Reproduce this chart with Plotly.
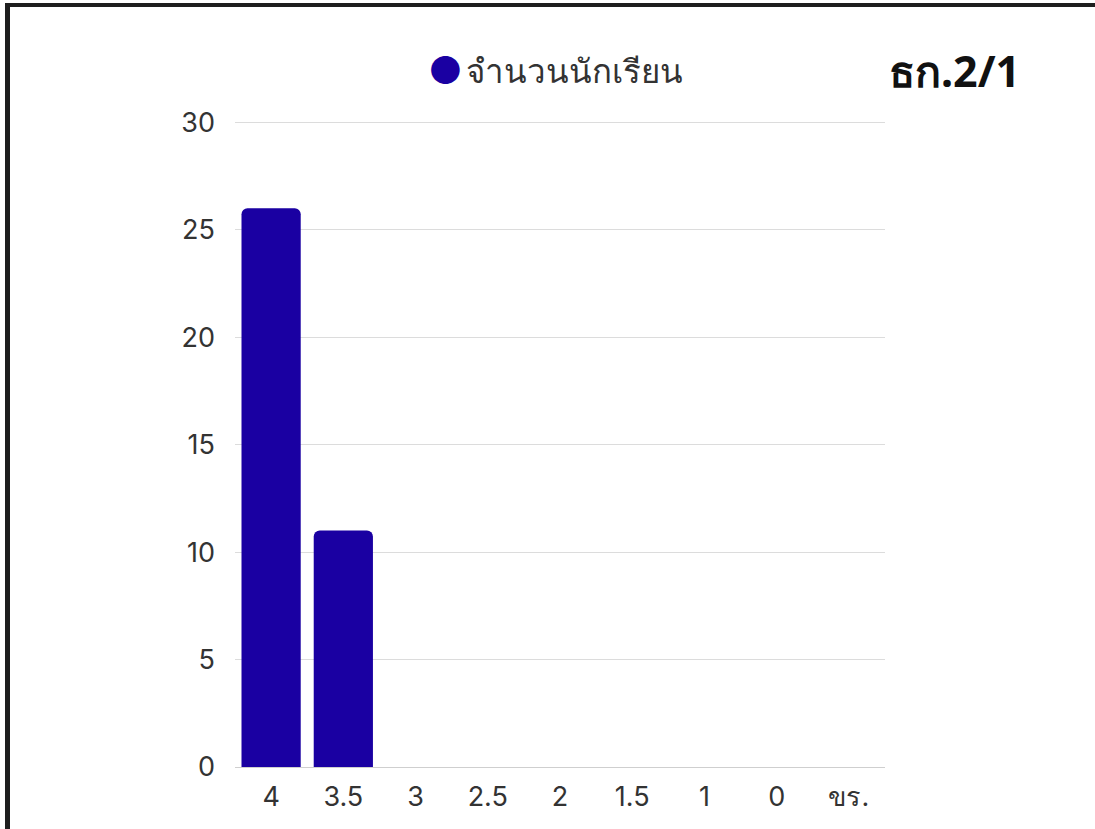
import plotly.graph_objects as go

categories = ["4", "3.5", "3", "2.5", "2", "1.5", "1", "0", "ขร."]
students = [26, 11, 0, 0, 0, 0, 0, 0, 0]
y_ticks = [0, 5, 10, 15, 20, 25, 30]
series_name = "จำนวนนักเรียน"
title_text = "ธก.2/1"

W, H = 1095, 829
L, R, T, B = 235, 210, 120, 62
pw, ph = W - L - R, H - T - B

def px(x):
    return (x - L) / pw

def py(y):
    return (H - B - y) / ph

fig = go.Figure()
fig.add_trace(go.Bar(
    x=categories, y=students, name=series_name,
    marker=dict(color="#1a00a2", cornerradius=6, line=dict(width=0)),
    showlegend=False,
))

fig.update_layout(
    width=W, height=H,
    margin=dict(l=L, r=R, t=T, b=B, autoexpand=False),
    paper_bgcolor="white", plot_bgcolor="white",
    bargap=0.18,
    font=dict(family="Inter, Noto Sans, sans-serif", color="#333333", size=27),
    xaxis=dict(type="category", showgrid=False, showline=False, ticks="",
               tickfont=dict(size=27, color="#333333"), ticklabelstandoff=11),
    yaxis=dict(range=[0, 30.1], tickvals=y_ticks, showgrid=True, gridcolor="#dcdcdc",
               gridwidth=1, zeroline=True, zerolinecolor="#cfcfcf", zerolinewidth=1,
               showline=False, ticks="", ticklabelstandoff=19,
               tickfont=dict(size=27, color="#333333")),
    shapes=[
        dict(type="rect", xref="paper", yref="paper",
             x0=px(5), x1=px(10), y0=py(829), y1=py(3),
             fillcolor="#1e1e1e", line=dict(width=0), layer="above"),
        dict(type="rect", xref="paper", yref="paper",
             x0=px(5), x1=px(1095), y0=py(7), y1=py(3),
             fillcolor="#1e1e1e", line=dict(width=0), layer="above"),
    ],
    annotations=[
        dict(xref="paper", yref="paper", x=px(445), y=py(70), text="●",
             showarrow=False, xanchor="center", yanchor="middle",
             font=dict(size=38, color="#1a00a2")),
        dict(xref="paper", yref="paper", x=px(464), y=py(70), text=series_name,
             showarrow=False, xanchor="left", yanchor="middle",
             font=dict(size=33, color="#333333", family="Noto Sans, sans-serif")),
        dict(xref="paper", yref="paper", x=px(887), y=py(70), text="<b>" + title_text + "</b>",
             showarrow=False, xanchor="left", yanchor="middle",
             font=dict(size=43, color="#111111", family="Noto Sans, sans-serif")),
    ],
)

fig.write_html("out.html", config={"displayModeBar": False},
               post_script="document.body.style.margin='0';document.body.style.padding='0';")
